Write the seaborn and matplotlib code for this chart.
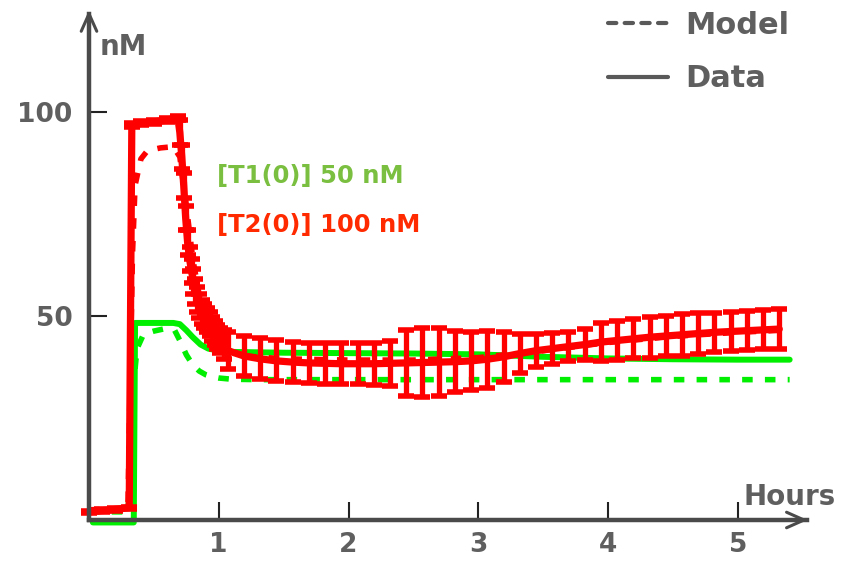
import matplotlib
matplotlib.use("Agg")
import matplotlib.pyplot as plt
import seaborn as sns
import pandas as pd
from matplotlib.lines import Line2D

# ---------------- data ----------------
# T2 (100 nM) measured data, with error bars
red_t = [0.00, 0.10, 0.20, 0.31, 0.33, 0.40, 0.50, 0.60, 0.685, 0.70, 0.715, 0.73,
         0.745, 0.76, 0.775, 0.79, 0.805, 0.82, 0.835, 0.85, 0.87, 0.89, 0.91, 0.93,
         0.95, 0.97, 0.99, 1.01, 1.04,
         1.07, 1.195, 1.32, 1.445, 1.57, 1.695, 1.82, 1.945, 2.07, 2.195, 2.32, 2.445,
         2.57, 2.695, 2.82, 2.945, 3.07, 3.195, 3.32, 3.445, 3.57, 3.695, 3.82, 3.945,
         4.07, 4.195, 4.32, 4.445, 4.57, 4.695, 4.82, 4.945, 5.07, 5.195, 5.32]
red_v = [2.0, 2.3, 2.6, 3.0, 96.8, 97.2, 97.6, 98.0, 98.6, 95.0, 89.0, 82.0,
         74.0, 68.0, 64.0, 61.0, 58.5, 56.0, 54.0, 52.5, 51.0, 50.0, 49.0, 48.0,
         46.8, 45.8, 44.8, 44.0, 43.0,
         41.5, 40.2, 39.5, 39.0, 38.7, 38.5, 38.4, 38.3, 38.3, 38.3, 38.4, 38.5,
         38.6, 38.7, 38.8, 39.0, 39.4, 40.0, 40.8, 41.5, 42.0, 42.5, 43.0, 43.6,
         44.0, 44.4, 44.8, 45.1, 45.4, 45.7, 46.0, 46.2, 46.4, 46.6, 46.8]
red_err = [0.3, 0.3, 0.3, 0.3, 0.5, 0.5, 0.5, 0.5, 0.5, 3.0, 3.0, 3.0,
           3.0, 3.0, 3.0, 3.0, 3.0, 3.0, 3.0, 3.0, 3.0, 3.0, 3.0, 3.0,
           3.0, 3.0, 3.0, 3.0, 3.5,
           4.5, 5.0, 5.0, 5.0, 4.9, 4.9, 5.0, 5.0, 5.0, 5.2, 5.5, 8.0,
           8.5, 8.3, 7.5, 7.2, 7.0, 6.2, 4.8, 4.0, 3.8, 3.6, 3.8, 4.6,
           4.8, 4.8, 5.0, 5.0, 5.1, 5.0, 4.8, 4.7, 4.8, 4.8, 4.9]

# T2 model
red_model_t = [0.0, 0.30, 0.315, 0.335, 0.355, 0.40, 0.45, 0.55, 0.65, 0.70, 0.75, 0.80,
               0.85, 0.90, 0.95, 1.0, 1.1, 1.2, 1.5, 2.0, 2.5, 3.0, 3.5, 4.0, 4.5, 5.0, 5.4]
red_model_v = [2.5, 2.8, 30.0, 65.0, 82.0, 88.5, 90.5, 91.2, 91.5, 89.0, 77.0, 64.0,
               55.0, 49.0, 45.5, 43.5, 41.2, 40.2, 39.5, 39.2, 39.2, 39.8, 41.5, 43.5,
               45.0, 46.0, 46.6]

# T1 (50 nM) measured data
green_t = [0.03, 0.20, 0.345, 0.355, 0.45, 0.55, 0.65, 0.70, 0.75, 0.80, 0.86, 0.92,
           1.0, 1.1, 1.5, 2.0, 2.5, 3.0, 3.5, 4.0, 4.5, 5.0, 5.4]
green_v = [-0.6, -0.6, -0.6, 48.3, 48.3, 48.3, 48.3, 48.0, 46.5, 44.8, 43.0, 42.0,
           41.5, 41.2, 41.0, 40.9, 40.8, 40.6, 40.0, 39.6, 39.4, 39.3, 39.3]

# T1 model
green_model_t = [0.0, 0.30, 0.32, 0.34, 0.37, 0.42, 0.50, 0.60, 0.66, 0.70, 0.75, 0.80,
                 0.85, 0.90, 0.95, 1.0, 1.1, 1.3, 2.0, 3.0, 4.0, 5.0, 5.4]
green_model_v = [2.0, 2.0, 12.0, 32.0, 42.0, 45.5, 46.3, 47.0, 46.5, 44.0, 40.5, 38.0,
                 36.5, 35.6, 35.1, 34.8, 34.5, 34.4, 34.4, 34.4, 34.4, 34.4, 34.4]

x_ticks = [1, 2, 3, 4, 5]
x_tick_labels = ["1", "2", "3", "4", "5"]
y_ticks = [50, 100]
y_tick_labels = ["50", "100"]

# ---------------- styling ----------------
sns.set_style("white")
plt.rcParams["font.family"] = ["DejaVu Sans"]
plt.rcParams["font.weight"] = "bold"

AXIS_C = "#4a4a4a"
TXT_C = "#5f5f5f"
RED = "#ff0000"
GREEN = "#00ee00"

fig = plt.figure(figsize=(8.57, 5.61), dpi=100)
ax = fig.add_axes([0, 0, 1, 1])
PX_X = 129.75   # pixels per hour
PX_Y = 4.08     # pixels per nM
ax.set_xlim(-89 / PX_X, (857 - 89) / PX_X)
ax.set_ylim((520 - 561) / PX_Y, 520 / PX_Y)

gm = pd.DataFrame({"t": green_model_t, "v": green_model_v})
gd = pd.DataFrame({"t": green_t, "v": green_v})
rm = pd.DataFrame({"t": red_model_t, "v": red_model_v})
rd = pd.DataFrame({"t": red_t, "v": red_v, "e": red_err})

sns.lineplot(data=gd, x="t", y="v", ax=ax, color=GREEN, linewidth=4.3,
             estimator=None, sort=False, zorder=2)
sns.lineplot(data=gm, x="t", y="v", ax=ax, color=GREEN, linewidth=4.0,
             estimator=None, sort=False, zorder=2.1,
             linestyle=(0, (1.9, 2.2)))
sns.lineplot(data=rm, x="t", y="v", ax=ax, color=RED, linewidth=4.0,
             estimator=None, sort=False, zorder=2.2,
             linestyle=(0, (1.9, 2.2)))
ax.errorbar(rd["t"], rd["v"], yerr=rd["e"], fmt="none", ecolor=RED,
            elinewidth=3.8, capsize=6, capthick=4, zorder=2.3)
sns.lineplot(data=rd, x="t", y="v", ax=ax, color=RED, linewidth=5.2,
             estimator=None, sort=False, zorder=2.4)

# ---------------- axes ----------------
for s in ["top", "right"]:
    ax.spines[s].set_visible(False)
ax.spines["left"].set_position(("data", 0))
ax.spines["bottom"].set_position(("data", 0))
ax.spines["left"].set_bounds(0, 124)
ax.spines["bottom"].set_bounds(0, 5.53)
for s in ["left", "bottom"]:
    ax.spines[s].set_color(AXIS_C)
    ax.spines[s].set_linewidth(3.2)
    ax.spines[s].set_zorder(3)

ax.annotate("", xy=(0, 125), xytext=(0, 118),
            arrowprops=dict(arrowstyle="->,head_length=0.45,head_width=0.2",
                            color=AXIS_C, lw=2.2, mutation_scale=28,
                            shrinkA=0, shrinkB=0))
ax.annotate("", xy=(5.54, 0), xytext=(5.3, 0),
            arrowprops=dict(arrowstyle="->,head_length=0.45,head_width=0.2",
                            color=AXIS_C, lw=2.2, mutation_scale=28,
                            shrinkA=0, shrinkB=0))

ax.set_xticks(x_ticks)
ax.set_xticklabels(x_tick_labels)
ax.set_yticks(y_ticks)
ax.set_yticklabels(y_tick_labels)
ax.tick_params(axis="both", direction="in", length=13, width=1.5, color="#222222",
               labelcolor=TXT_C, labelsize=19, bottom=True, left=True)
ax.tick_params(axis="x", pad=9)
ax.tick_params(axis="y", pad=12)
ax.set_xlabel("")
ax.set_ylabel("")

ax.text((100 - 89) / PX_X, (520 - 55) / PX_Y, "nM", fontsize=20, color=TXT_C,
        fontweight="bold", ha="left", va="baseline")
ax.text((743 - 89) / PX_X, (520 - 505) / PX_Y, "Hours", fontsize=20, color=TXT_C,
        fontweight="bold", ha="left", va="baseline")

ax.text((217 - 89) / PX_X, (520 - 183) / PX_Y, "[T1(0)] 50 nM", fontsize=17.5,
        color="#7abf3f", fontweight="bold", ha="left", va="baseline")
ax.text((217 - 89) / PX_X, (520 - 232) / PX_Y, "[T2(0)] 100 nM", fontsize=17.5,
        color="#ff2a00", fontweight="bold", ha="left", va="baseline")

handles = [Line2D([], [], color="#595959", lw=3, linestyle=(0, (2, 2)),
                  dash_capstyle="round"),
           Line2D([], [], color="#595959", lw=3)]
leg = fig.legend(handles, ["Model", "Data"], loc="upper left",
                 bbox_to_anchor=(608 / 857, 1 - 11 / 561), frameon=False,
                 fontsize=22, handlelength=1.96, handletextpad=0.56,
                 labelspacing=0.8, borderpad=0, borderaxespad=0)
for t in leg.get_texts():
    t.set_color(TXT_C)
    t.set_fontweight("bold")

fig.savefig("out.png", dpi=100)
